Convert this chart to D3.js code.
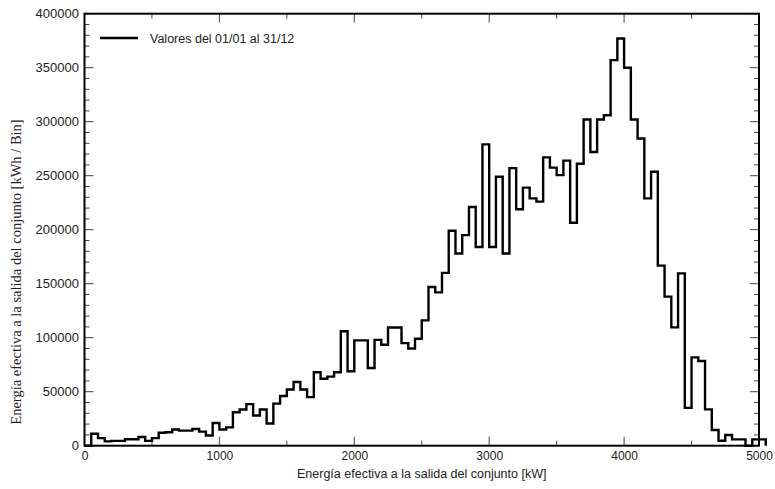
<!DOCTYPE html>
<html><head><meta charset="utf-8">
<script src="https://cdn.jsdelivr.net/npm/d3@7"></script>
<style>body{margin:0;background:#fff}svg{display:block}</style>
</head><body>
<script>
const binWidth = 50;
const binStarts = d3.range(0, 5050, 50);
const energy = [0,11000,7000,4000,4500,4500,6000,6000,8000,4500,
 7000,12000,12500,15000,14000,14000,15500,13000,9500,21000,
 15000,17000,31000,33500,38500,28000,33500,20500,39000,46000,
 52000,59000,52000,45000,68000,62000,64000,68000,106000,69000,
 97500,97500,72000,98000,93500,109500,109500,95000,90000,99000,
 116000,147000,142000,160000,199000,178000,195000,221000,184000,279000,
 184000,249000,178000,257000,219000,239000,229000,226000,267000,257500,
 250500,264000,206500,261000,302000,272000,302000,306000,357000,377000,
 350000,302000,284500,229000,253700,166700,138000,109600,159600,35000,
 81800,78400,33600,14500,4600,9900,5900,5900,0,5900,5900];
const xTicks = [0,1000,2000,3000,4000,5000];
const yTicks = [0,50000,100000,150000,200000,250000,300000,350000,400000];
const legendLabel = "Valores del 01/01 al 31/12";
const xTitle = "Energía efectiva a la salida del conjunto [kW]";
const yTitle = "Energía efectiva a la salida del conjunto [kWh / Bin]";

const W = 775, H = 489;
const L = 84.5, R = 759, T = 13.7, B = 445.7;
const svg = d3.select("body").append("svg").attr("width", W).attr("height", H);
const x = d3.scaleLinear().domain([0, 5000]).range([L, R]);
const y = d3.scaleLinear().domain([0, 400000]).range([B, T]);
const sans = "'Liberation Sans', Arial, sans-serif";

// minor/major ticks (inward, all four sides)
const tickCol = "#444";
const xMinor = d3.range(0, 5001, 500);
const yMinor = d3.range(0, 400001, 10000);
const tg = svg.append("g").attr("stroke", tickCol).attr("stroke-width", 1);
xMinor.forEach(v => {
  const len = v % 1000 === 0 ? 9 : 5;
  tg.append("line").attr("x1", x(v)).attr("x2", x(v)).attr("y1", B).attr("y2", B - len);
  tg.append("line").attr("x1", x(v)).attr("x2", x(v)).attr("y1", T).attr("y2", T + len);
});
yMinor.forEach(v => {
  const len = v % 50000 === 0 ? 9 : 5;
  tg.append("line").attr("x1", L).attr("x2", L + len).attr("y1", y(v)).attr("y2", y(v));
  tg.append("line").attr("x1", R).attr("x2", R - len).attr("y1", y(v)).attr("y2", y(v));
});

// tick labels via d3 axes
const xAxis = svg.append("g").attr("transform", `translate(0,${B})`)
  .call(d3.axisBottom(x).tickValues(xTicks).tickSize(0).tickPadding(6).tickFormat(d3.format("d")));
const yAxis = svg.append("g").attr("transform", `translate(${L},0)`)
  .call(d3.axisLeft(y).tickValues(yTicks).tickSize(0).tickPadding(5.5).tickFormat(d3.format("d")));
xAxis.select(".domain").remove();
yAxis.select(".domain").remove();
xAxis.selectAll("text").attr("font-family", sans).attr("font-size", 12).attr("fill", "#222");
yAxis.selectAll("text").attr("font-family", sans).attr("font-size", 13).attr("fill", "#222");

// histogram step line
const pts = [[0, 0]];
binStarts.forEach((s, i) => { pts.push([s, energy[i]]); pts.push([s + binWidth, energy[i]]); });
pts.push([binStarts[binStarts.length - 1] + binWidth, 0]);
svg.append("path")
  .attr("d", d3.line().x(d => x(d[0])).y(d => y(d[1]))(pts))
  .attr("fill", "none").attr("stroke", "#000").attr("stroke-width", 2.4)
  .attr("stroke-linejoin", "miter");

// frame
svg.append("rect").attr("x", L).attr("y", T).attr("width", R - L).attr("height", B - T)
  .attr("fill", "none").attr("stroke", "#000").attr("stroke-width", 2);

// legend
svg.append("line").attr("x1", 100).attr("x2", 138).attr("y1", 38).attr("y2", 38)
  .attr("stroke", "#000").attr("stroke-width", 2.4);
svg.append("text").attr("x", 150).attr("y", 43).text(legendLabel)
  .attr("font-family", sans).attr("font-size", 12.5).attr("fill", "#222");

// titles
svg.append("text").attr("x", (L + R) / 2).attr("y", 478).attr("text-anchor", "middle")
  .text(xTitle).attr("font-family", sans).attr("font-size", 12.5).attr("fill", "#222");
svg.append("text").attr("transform", `translate(21,272) rotate(-90)`)
  .attr("text-anchor", "middle").text(yTitle)
  .attr("font-family", "'Liberation Serif', 'Times New Roman', serif").attr("font-size", 14.5).attr("fill", "#222");
</script>
</body></html>
